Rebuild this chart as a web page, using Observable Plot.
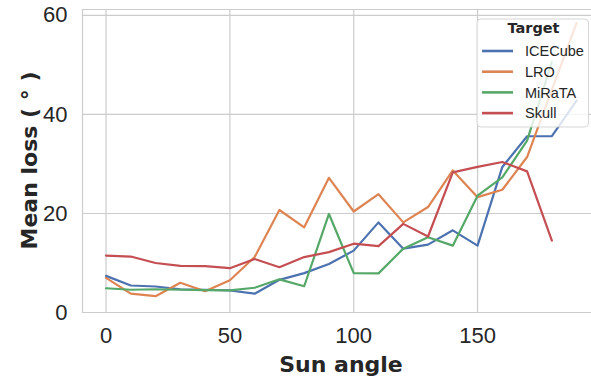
<!DOCTYPE html>
<html><head><meta charset="utf-8">
<script src="https://cdn.jsdelivr.net/npm/d3@7"></script>
<script src="https://cdn.jsdelivr.net/npm/@observablehq/plot@0.6"></script>
<style>html,body{margin:0;padding:0;background:#fff} svg{display:block}</style>
</head><body><div id="chart"></div>
<script>
const sunAngles = [0,10,20,30,40,50,60,70,80,90,100,110,120,130,140,150,160,170,180,190];
const icecube = [7.4,5.45,5.25,4.7,4.6,4.45,3.8,6.6,7.95,9.8,12.5,18.2,12.9,13.7,16.6,13.5,29.4,35.6,35.6,42.8];
const lro     = [7.0,3.8,3.3,6.0,4.3,6.5,11.2,20.7,17.2,27.2,20.4,23.9,18.2,21.3,28.7,23.3,24.8,31.4,45.0,58.5];
const mirata  = [4.9,4.6,4.7,4.6,4.5,4.45,5.0,6.7,5.3,19.9,7.95,7.9,12.9,15.2,13.5,23.6,27.3,34.7,50.6,null];
const skull   = [11.5,11.3,10.0,9.4,9.35,8.95,10.8,9.15,11.2,12.2,13.9,13.4,17.9,15.35,28.3,29.4,30.4,28.5,14.5,null];
const targets = ["ICECube","LRO","MiRaTA","Skull"];
const colors  = ["#4c72b0","#dd8452","#55a868","#c44e52"];
const xTicks = [0,50,100,150];
const yTicks = [0,20,40,60];
const xLabel = "Sun angle";
const yLabel = "Mean loss ( ° )";
const legendTitle = "Target";

const series = [icecube, lro, mirata, skull];
const rows = [];
targets.forEach((t,i) => series[i].forEach((v,j) => { if (v != null) rows.push({target:t, angle:sunAngles[j], loss:v}); }));

const xDom = [-9.5, 196];
const yDom = [0, 61.2];
const grid = "#cccccc";

const chart = Plot.plot({
  width: 591, height: 379,
  marginLeft: 82, marginRight: 0, marginTop: 9, marginBottom: 67,
  style: {fontFamily: "'Liberation Sans', Arial, sans-serif", color: "#262626", background: "white"},
  x: {domain: xDom},
  y: {domain: yDom},
  color: {domain: targets, range: colors},
  marks: [
    Plot.ruleX(xTicks, {stroke: grid, strokeWidth: 1.2}),
    Plot.ruleY(yTicks, {stroke: grid, strokeWidth: 1.2}),
    Plot.ruleY([yDom[1]], {stroke: grid, strokeWidth: 1.2}),
    Plot.ruleX([xDom[0]], {stroke: grid, strokeWidth: 1.2}),
    Plot.lineY(rows, {x: "angle", y: "loss", z: "target", stroke: "target", strokeWidth: 2.2}),
    Plot.axisX(xTicks, {tickSize: 0, tickPadding: 15, fontSize: 22, label: null, fill: "#262626"}),
    Plot.axisY(yTicks, {tickSize: 0, tickPadding: 15, fontSize: 22, label: null, fill: "#262626"})
  ]
});
document.getElementById("chart").appendChild(chart);

const svg = d3.select(chart);
svg.append("text").attr("x", 341).attr("y", 372).attr("text-anchor", "middle")
  .attr("font-family", "'DejaVu Sans', sans-serif").attr("font-weight", "bold").attr("font-size", 22)
  .attr("fill", "#262626").text(xLabel);
svg.append("text").attr("transform", "translate(37,160.5) rotate(-90)").attr("text-anchor", "middle")
  .attr("font-family", "'DejaVu Sans', sans-serif").attr("font-weight", "bold").attr("font-size", 22)
  .attr("fill", "#262626").text(yLabel);

const lg = svg.append("g");
lg.append("rect").attr("x", 477).attr("y", 19).attr("width", 111.5).attr("height", 108).attr("rx", 4)
  .attr("fill", "white").attr("fill-opacity", 0.8).attr("stroke", grid).attr("stroke-opacity", 0.8);
lg.append("text").attr("x", 533.5).attr("y", 32.5).attr("text-anchor", "middle")
  .attr("font-family", "'DejaVu Sans', sans-serif").attr("font-weight", "bold").attr("font-size", 14.5)
  .attr("fill", "#262626").text(legendTitle);
targets.forEach((t, i) => {
  const cy = 51 + i * 20.7;
  lg.append("line").attr("x1", 482).attr("x2", 513).attr("y1", cy).attr("y2", cy)
    .attr("stroke", colors[i]).attr("stroke-width", 2.6);
  lg.append("text").attr("x", 525).attr("y", cy).attr("dy", "0.36em").attr("text-anchor", "start")
    .attr("font-family", "'Liberation Sans', Arial, sans-serif").attr("font-size", 14.5)
    .attr("fill", "#262626").text(t);
});
</script>
</body></html>
